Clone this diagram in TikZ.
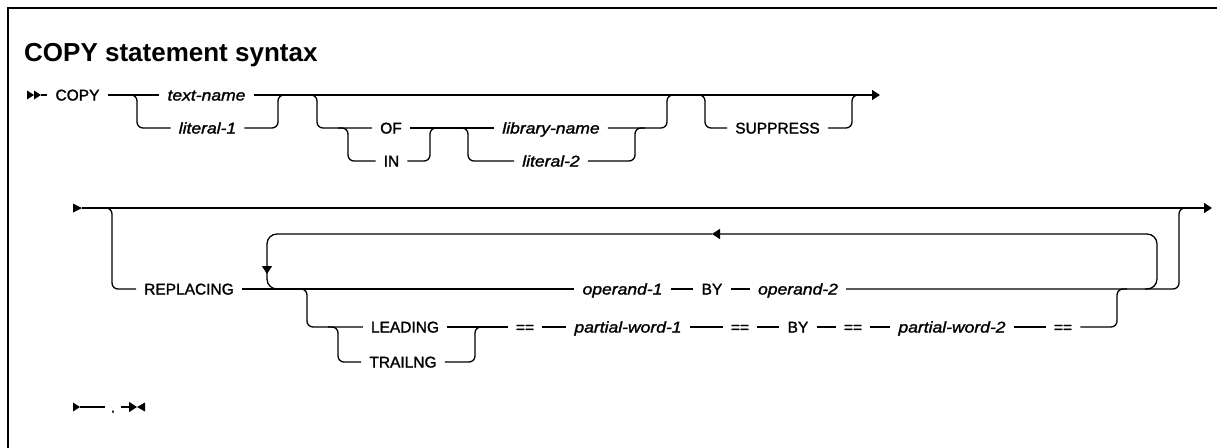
\documentclass[tikz,border=0pt]{standalone}
\usepackage{fontspec}
\setmainfont{Liberation Sans}
\newfontfamily\railfam{Liberation Sans}[FakeBold=1.6]
\newfontfamily\railitfam{Liberation Sans}[FakeStretch=1.13,FakeBold=1.6]
\usetikzlibrary{arrows.meta}
\newcommand\kwsize{\fontsize{15.5}{18}\selectfont}
\begin{document}
\begin{tikzpicture}[x=1pt,y=-1pt,
  kwnode/.style={font=\railfam\kwsize, inner xsep=8pt, inner ysep=0pt, text height=12pt, text depth=1pt},
  varnode/.style={kwnode, font=\railitfam\itshape\kwsize},
  rail/.style={line width=1.3pt, rounded corners=6pt},
  railtip/.style={-{Triangle[length=8pt,width=10pt]}},
  head/.style={fill=black}]
\useasboundingbox (0,0) rectangle (1217,447);
% frame
\draw[line width=2.6pt] (8,460) -- (8,8) -- (1230,8);
% title
\node[anchor=west, inner sep=0pt, font=\fontsize{26}{30}\selectfont\bfseries] (title) at (24,55) {COPY statement syntax};

% ---------- row 1 ----------
\fill[head] (27,90.5) -- (34,95) -- (27,99.5) -- cycle;
\fill[head] (34,90.5) -- (41,95) -- (34,99.5) -- cycle;
\coordinate (r1s) at (41,95);
\coordinate (r1e) at (880,95);
\node[kwnode] (copy) at (77.5,95) {COPY};
\node[varnode] (tn) at (206.5,95) {text-name};
\node[varnode] (l1) at (207.5,128) {literal-1};
\node[kwnode] (of) at (391,128) {OF};
\node[kwnode] (in) at (391.5,161) {IN};
\node[varnode] (ln) at (551,128) {library-name};
\node[varnode] (l2) at (551,161) {literal-2};
\node[kwnode] (sup) at (777.5,128) {SUPPRESS};
\coordinate (ja1) at (127,95);  \coordinate (ja2) at (288,95);
\coordinate (jb1) at (307,95);  \coordinate (jb2) at (677,95);
\coordinate (jc1) at (338,128); \coordinate (jc2) at (440,128);
\coordinate (jd1) at (458,128); \coordinate (jd2) at (645,128);
\coordinate (je1) at (695,95);  \coordinate (je2) at (862,95);

\draw[rail] (r1s) -- (copy.west);
\draw[rail] (copy.east) -- (tn.west);
\draw[rail, railtip] (tn.east) -- (r1e);
\draw[rail] (ja1) -- (137,95) -- (137,128) -- (l1.west);
\draw[rail] (l1.east) -- (278,128) -- (278,95) -- (ja2);
\draw[rail] (jb1) -- (317,95) -- (317,128) -- (of.west);
\draw[rail] (jc1) -- (348,128) -- (348,161) -- (in.west);
\draw[rail] (of.east) -- (ln.west);
\draw[rail] (in.east) -- (430,161) -- (430,128) -- (jc2);
\draw[rail] (jd1) -- (468,128) -- (468,161) -- (l2.west);
\draw[rail] (l2.east) -- (635,161) -- (635,128) -- (jd2);
\draw[rail] (ln.east) -- (667,128) -- (667,95) -- (jb2);
\draw[rail] (je1) -- (705,95) -- (705,128) -- (sup.west);
\draw[rail] (sup.east) -- (852,128) -- (852,95) -- (je2);

% ---------- row 2 ----------
\fill[head] (73,203.5) -- (82,208) -- (73,212.5) -- cycle;
\coordinate (r2s) at (82,208);
\coordinate (r2e) at (1212,208);
\node[kwnode] (repl) at (189,289) {REPLACING};
\node[varnode] (op1) at (622.5,289) {operand-1};
\node[kwnode] (by1) at (712,289) {BY};
\node[varnode] (op2) at (798,289) {operand-2};
\node[kwnode] (lead) at (405,327) {LEADING};
\node[kwnode] (trail) at (403,362) {TRAILNG};
\node[kwnode] (eq1) at (525,327) {==};
\node[varnode] (pw1) at (628,327) {partial-word-1};
\node[kwnode] (eq2) at (740,327) {==};
\node[kwnode] (by2) at (798,327) {BY};
\node[kwnode] (eq3) at (853,327) {==};
\node[varnode] (pw2) at (952,327) {partial-word-2};
\node[kwnode] (eq4) at (1063,327) {==};
\coordinate (jf1) at (102,208);  \coordinate (jf2) at (1189,208);
\coordinate (lp1) at (1145,289); \coordinate (lp2) at (712,234);
\coordinate (lp3) at (267,274);  \coordinate (lp4) at (267,268);
\coordinate (lp5) at (282,289);
\coordinate (jg1) at (297,289);  \coordinate (jg2) at (1127,289);
\coordinate (jh1) at (328,327);  \coordinate (jh2) at (485,327);

\draw[rail, railtip] (r2s) -- (r2e);
\draw[rail] (jf1) -- (112,208) -- (112,289) -- (repl.west);
\draw[rail] (repl.east) -- (op1.west);
\draw[rail] (op1.east) -- (by1.west);
\draw[rail] (by1.east) -- (op2.west);
\draw[rail] (op2.east) -- (1179,289) -- (1179,208) -- (jf2);
% repeat loop
\draw[rail, rounded corners=10pt, railtip] (lp1) -- (1157,289) -- (1157,234) -- (lp2);
\draw[rail, rounded corners=10pt, railtip] (lp2) -- (267,234) -- (lp3);
\draw[rail, rounded corners=10pt] (lp4) -- (267,289) -- (lp5);
% leading / trailing
\draw[rail] (jg1) -- (307,289) -- (307,327) -- (lead.west);
\draw[rail] (jh1) -- (338,327) -- (338,362) -- (trail.west);
\draw[rail] (trail.east) -- (475,362) -- (475,327) -- (jh2);
\draw[rail] (lead.east) -- (eq1.west);
\draw[rail] (eq1.east) -- (pw1.west);
\draw[rail] (pw1.east) -- (eq2.west);
\draw[rail] (eq2.east) -- (by2.west);
\draw[rail] (by2.east) -- (eq3.west);
\draw[rail] (eq3.east) -- (pw2.west);
\draw[rail] (pw2.east) -- (eq4.west);
\draw[rail] (eq4.east) -- (1117,327) -- (1117,289) -- (jg2);

% ---------- row 3 ----------
\fill[head] (73,402.5) -- (80,407) -- (73,411.5) -- cycle;
\coordinate (r3s) at (80,407);
\coordinate (r3e) at (137,407);
\node[kwnode, inner xsep=6pt] (dot) at (113,407) {.};
\draw[rail] (r3s) -- (dot.west);
\draw[rail, railtip] (dot.east) -- (r3e);
\fill[head] (145,402.5) -- (137,407) -- (145,411.5) -- cycle;
\end{tikzpicture}
\end{document}
